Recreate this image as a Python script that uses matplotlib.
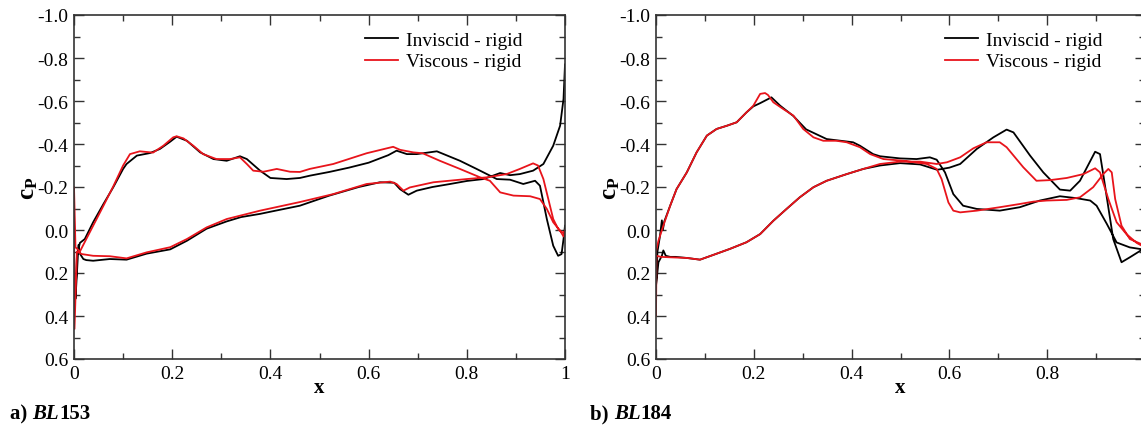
import matplotlib
matplotlib.use('Agg')
import matplotlib.pyplot as plt
from matplotlib.ticker import MultipleLocator, FuncFormatter

plt.rcParams['font.family'] = 'Liberation Serif'
plt.rcParams['mathtext.fontset'] = 'custom'
plt.rcParams['mathtext.rm'] = 'Liberation Serif'
plt.rcParams['mathtext.bf'] = 'Liberation Serif:bold'
plt.rcParams['axes.unicode_minus'] = False

# ---- BL153 : inviscid (black), path TE -> lower -> LE -> upper -> TE
bl153_inv_x = [1.0, 0.997, 0.99, 0.976, 0.956, 0.935, 0.908, 0.888, 0.868, 0.85, 0.834, 0.8,
               0.766, 0.73, 0.698, 0.681, 0.664, 0.652, 0.623, 0.58, 0.52, 0.46, 0.4, 0.379,
               0.34, 0.311, 0.27, 0.23, 0.196, 0.148, 0.107, 0.073, 0.039, 0.025, 0.019,
               0.012, 0.009, 0.006, 0.003, 0.006, 0.012, 0.022, 0.039, 0.06, 0.08, 0.1,
               0.107, 0.128, 0.155, 0.175, 0.196, 0.209, 0.23, 0.257, 0.284, 0.311, 0.338,
               0.352, 0.379, 0.4, 0.433, 0.46, 0.481, 0.52, 0.56, 0.6, 0.64, 0.657, 0.678,
               0.698, 0.739, 0.786, 0.82, 0.861, 0.888, 0.915, 0.939, 0.949, 0.963, 0.976,
               0.986, 0.993, 0.997, 1.0]
bl153_inv_cp = [-0.77, -0.61, -0.485, -0.392, -0.307, -0.276, -0.26, -0.255, -0.265, -0.25,
                -0.237, -0.228, -0.214, -0.2, -0.183, -0.164, -0.19, -0.22, -0.222, -0.2,
                -0.16, -0.113, -0.085, -0.075, -0.06, -0.04, -0.006, 0.05, 0.09, 0.11, 0.138,
                0.135, 0.143, 0.14, 0.135, 0.11, 0.07, 0.2, 0.32, 0.12, 0.06, 0.042, -0.036,
                -0.121, -0.199, -0.284, -0.307, -0.346, -0.358, -0.377, -0.411, -0.434,
                -0.415, -0.361, -0.33, -0.322, -0.343, -0.33, -0.276, -0.242, -0.237, -0.242,
                -0.253, -0.27, -0.29, -0.313, -0.348, -0.369, -0.353, -0.353, -0.366, -0.322,
                -0.284, -0.237, -0.234, -0.214, -0.229, -0.206, -0.051, 0.073, 0.12, 0.112,
                0.042, -0.02]

# ---- BL153 : viscous (red)
bl153_vis_x = [0.997, 0.993, 0.986, 0.976, 0.966, 0.956, 0.945, 0.935, 0.908, 0.881, 0.841,
               0.8, 0.732, 0.684, 0.671, 0.657, 0.644, 0.596, 0.528, 0.46, 0.379, 0.311,
               0.27, 0.23, 0.196, 0.148, 0.107, 0.073, 0.039, 0.016, 0.006, 0.001, 0.0,
               0.003, 0.012, 0.039, 0.06, 0.08, 0.1, 0.114, 0.134, 0.161, 0.182, 0.202,
               0.209, 0.223, 0.243, 0.263, 0.29, 0.318, 0.338, 0.352, 0.365, 0.386, 0.413,
               0.44, 0.46, 0.48, 0.528, 0.596, 0.65, 0.664, 0.691, 0.71, 0.745, 0.786,
               0.827, 0.847, 0.868, 0.895, 0.929, 0.949, 0.963, 0.976, 0.99, 0.997, 1.0]
bl153_vis_cp = [0.01, 0.01, -0.005, -0.051, -0.144, -0.237, -0.3, -0.31, -0.284, -0.26,
                -0.245, -0.237, -0.222, -0.198, -0.183, -0.214, -0.225, -0.214, -0.167,
                -0.13, -0.09, -0.051, -0.012, 0.042, 0.08, 0.104, 0.132, 0.122, 0.12, 0.112,
                0.1, 0.46, -0.2, 0.08, 0.1, -0.02, -0.113, -0.203, -0.3, -0.353, -0.366,
                -0.36, -0.392, -0.431, -0.436, -0.426, -0.392, -0.353, -0.33, -0.33, -0.338,
                -0.307, -0.276, -0.271, -0.284, -0.271, -0.27, -0.284, -0.307, -0.357,
                -0.387, -0.373, -0.361, -0.357, -0.322, -0.284, -0.245, -0.229, -0.175,
                -0.16, -0.157, -0.144, -0.098, -0.036, 0.003, 0.03, 0.0]

# ---- BL184 : inviscid (black)
bl184_inv_x = [0.995, 0.969, 0.952, 0.935, 0.915, 0.908, 0.898, 0.867, 0.847, 0.826, 0.792,
               0.765, 0.731, 0.717, 0.69, 0.656, 0.622, 0.6, 0.575, 0.54, 0.499, 0.458,
               0.424, 0.39, 0.349, 0.322, 0.294, 0.267, 0.24, 0.213, 0.185, 0.151, 0.117,
               0.09, 0.063, 0.04, 0.029, 0.02, 0.015, 0.012, 0.005, 0.0, 0.003, 0.008,
               0.012, 0.014, 0.017, 0.029, 0.042, 0.063, 0.083, 0.104, 0.124, 0.145, 0.165,
               0.185, 0.199, 0.213, 0.236, 0.254, 0.281, 0.307, 0.349, 0.403, 0.417, 0.444,
               0.458, 0.499, 0.533, 0.56, 0.574, 0.591, 0.608, 0.628, 0.656, 0.703, 0.744,
               0.785, 0.826, 0.86, 0.888, 0.901, 0.922, 0.942, 0.969, 0.992, 1.0]
bl184_inv_cp = [0.09, 0.127, 0.15, 0.042, -0.253, -0.353, -0.364, -0.229, -0.183, -0.188,
                -0.268, -0.346, -0.454, -0.467, -0.431, -0.377, -0.307, -0.29, -0.28, -0.305,
                -0.311, -0.3, -0.284, -0.26, -0.229, -0.199, -0.152, -0.098, -0.043, 0.019,
                0.057, 0.088, 0.116, 0.138, 0.13, 0.125, 0.125, 0.12, 0.095, 0.12, 0.15,
                0.26, 0.1, 0.03, -0.045, 0.0, -0.04, -0.113, -0.19, -0.268, -0.361, -0.439,
                -0.47, -0.485, -0.501, -0.547, -0.575, -0.59, -0.617, -0.578, -0.53, -0.468,
                -0.423, -0.408, -0.392, -0.353, -0.343, -0.333, -0.33, -0.338, -0.327,
                -0.268, -0.167, -0.113, -0.098, -0.09, -0.106, -0.137, -0.157, -0.148,
                -0.137, -0.113, -0.028, 0.058, 0.081, 0.089, 0.1]

# ---- BL184 : viscous (red)
bl184_vis_x = [0.995, 0.983, 0.962, 0.942, 0.925, 0.908, 0.898, 0.874, 0.84, 0.806, 0.778,
               0.751, 0.717, 0.703, 0.676, 0.649, 0.622, 0.595, 0.574, 0.54, 0.499, 0.458,
               0.424, 0.39, 0.349, 0.322, 0.294, 0.267, 0.24, 0.213, 0.185, 0.151, 0.117,
               0.09, 0.063, 0.029, 0.01, 0.001, 0.0, 0.0, 0.005, 0.015, 0.029, 0.042, 0.063,
               0.083, 0.104, 0.124, 0.145, 0.165, 0.185, 0.199, 0.213, 0.223, 0.229, 0.24,
               0.26, 0.281, 0.301, 0.322, 0.342, 0.369, 0.39, 0.417, 0.438, 0.465, 0.506,
               0.554, 0.574, 0.584, 0.598, 0.608, 0.622, 0.656, 0.703, 0.744, 0.772, 0.799,
               0.84, 0.867, 0.894, 0.915, 0.925, 0.932, 0.939, 0.952, 0.969, 0.992, 1.0]
bl184_vis_cp = [0.075, 0.06, 0.019, -0.036, -0.144, -0.268, -0.287, -0.26, -0.242, -0.232,
                -0.229, -0.292, -0.385, -0.408, -0.408, -0.38, -0.338, -0.315, -0.307,
                -0.318, -0.318, -0.307, -0.284, -0.26, -0.229, -0.199, -0.152, -0.098,
                -0.043, 0.019, 0.057, 0.088, 0.116, 0.138, 0.13, 0.127, 0.125, 0.12, 0.4,
                0.1, 0.05, -0.02, -0.113, -0.19, -0.268, -0.361, -0.439, -0.47, -0.485,
                -0.501, -0.547, -0.578, -0.633, -0.637, -0.628, -0.594, -0.563, -0.532,
                -0.47, -0.431, -0.415, -0.415, -0.408, -0.385, -0.353, -0.33, -0.322,
                -0.307, -0.284, -0.237, -0.128, -0.09, -0.082, -0.09, -0.106, -0.121,
                -0.132, -0.137, -0.14, -0.152, -0.199, -0.261, -0.284, -0.268, -0.144,
                -0.02, 0.042, 0.065, 0.07]

W, H = 1141, 427
fig = plt.figure(figsize=(W / 100, H / 100), dpi=100)
ax1 = fig.add_axes([74 / W, 67 / H, 491 / W, 344 / H])
ax2 = fig.add_axes([656 / W, 67 / H, 489 / W, 344 / H])


def make_xfmt(show_one):
    def xfmt(v, pos):
        if abs(v) < 1e-9:
            return '0'
        if abs(v - 1) < 1e-9:
            return '1' if show_one else ''
        return '%.1f' % v
    return xfmt


def yfmt(v, pos):
    return '%.1f' % (v + 0.0 if abs(v) > 1e-9 else 0.0)


def style(ax, show_one):
    ax.set_xlim(0, 1)
    ax.set_ylim(0.6, -1.0)
    ax.xaxis.set_major_locator(MultipleLocator(0.2))
    ax.xaxis.set_minor_locator(MultipleLocator(0.1))
    ax.yaxis.set_major_locator(MultipleLocator(0.2))
    ax.yaxis.set_minor_locator(MultipleLocator(0.1))
    ax.xaxis.set_major_formatter(FuncFormatter(make_xfmt(show_one)))
    ax.yaxis.set_major_formatter(FuncFormatter(yfmt))
    ax.tick_params(which='both', direction='in', top=True, right=True,
                   labelsize=14, width=1.0, color='#333333')
    ax.tick_params(which='major', length=7, pad=4)
    ax.tick_params(which='minor', length=4)
    for s in ax.spines.values():
        s.set_linewidth(1.2)
        s.set_color('#333333')
    ax.set_xlabel('x', fontsize=15, fontweight='bold', labelpad=-3)
    ax.set_ylabel(r'$\mathbf{c_P}$', fontsize=18, labelpad=-2)


panels = [(ax1, bl153_inv_x, bl153_inv_cp, bl153_vis_x, bl153_vis_cp, True),
          (ax2, bl184_inv_x, bl184_inv_cp, bl184_vis_x, bl184_vis_cp, False)]
for ax, xi, ci, xv, cv, show_one in panels:
    ax.plot(xi, ci, color='black', lw=1.3, label='Inviscid - rigid')
    ax.plot(xv, cv, color='#e8141b', lw=1.3, label='Viscous - rigid')
    style(ax, show_one)
    ax.legend(loc='upper right', bbox_to_anchor=(0.93, 0.975), frameon=False,
              fontsize=14, handlelength=1.7, handletextpad=0.45, labelspacing=0.2,
              borderaxespad=0)

for x0, tag, num in [(10, 'a) ', '153'), (590, 'b) ', '184')]:
    t1 = fig.text(x0 / W, 1 - 414 / H, tag, fontsize=15, fontweight='bold', va='center')
    t2 = fig.add_artist(plt.Annotation('BL', xy=(1, 0), xycoords=t1, va='bottom',
                                       fontsize=15, fontweight='bold', style='italic',
                                       annotation_clip=False))
    fig.add_artist(plt.Annotation(num, xy=(1, 0), xycoords=t2, va='bottom', fontsize=15,
                                  fontweight='bold', annotation_clip=False))

fig.savefig('out.png', dpi=100)
